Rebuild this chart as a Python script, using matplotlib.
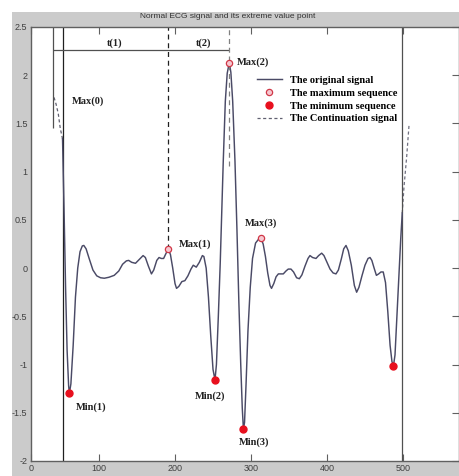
import matplotlib
matplotlib.use("Agg")
import matplotlib.pyplot as plt
from matplotlib.patches import Rectangle

# ECG signal (x in samples, y in mV)
sig_x = [52, 54, 56, 58, 60, 61, 63, 66, 69, 72, 75, 78, 80, 83, 87, 92, 97, 102, 107, 113,
         120, 126, 131, 136, 139, 143, 148, 153, 158, 161, 165, 169, 172, 176, 179, 182, 185,
         188, 191.2, 194, 197, 200, 202, 205, 209, 213, 217, 221, 224, 228, 232, 236, 238, 241,
         244, 247, 250, 252.6, 254.5, 257, 259.5, 261.5, 263.5, 266.2, 268.7, 271.4, 273.5,
         275.9, 278.9, 281.5, 284, 286.5, 288.5, 290, 291.5, 293.5, 296, 299, 302, 306, 310,
         313, 316, 319, 322, 325, 327, 330, 333, 336, 339, 342.5, 346, 349, 352.6, 356, 360,
         363.6, 367, 371, 375, 377.6, 381, 385.5, 389, 393, 396, 400, 404, 408, 411.8, 415,
         419, 422, 425, 428, 432, 436, 439, 442, 446, 450, 454, 456.6, 459, 462, 465, 468,
         471, 474, 477, 480, 483, 485.5, 487.5, 489.5, 492, 495, 497, 499]
sig_y = [1.34, 0.6, -0.2, -0.85, -1.22, -1.30, -1.2, -0.8, -0.3, 0.0, 0.17, 0.23, 0.235, 0.20,
         0.10, -0.02, -0.08, -0.10, -0.105, -0.095, -0.075, -0.03, 0.04, 0.075, 0.08, 0.06,
         0.05, 0.09, 0.13, 0.11, 0.02, -0.06, -0.02, 0.08, 0.11, 0.10, 0.10, 0.15, 0.20, 0.14,
         0.0, -0.16, -0.21, -0.19, -0.14, -0.13, -0.08, -0.01, 0.03, 0.01, 0.06, 0.13, 0.12,
         0.0, -0.3, -0.7, -1.05, -1.16, -1.0, -0.5, 0.05, 0.6, 1.11, 1.73, 2.02, 2.13, 2.03,
         1.73, 1.11, 0.4, -0.35, -1.0, -1.45, -1.67, -1.6, -1.2, -0.65, -0.2, 0.1, 0.26, 0.3,
         0.31, 0.25, 0.12, -0.05, -0.18, -0.21, -0.16, -0.09, -0.06, -0.06, -0.06, -0.03,
         -0.01, -0.01, -0.04, -0.1, -0.11, -0.07, 0.02, 0.1, 0.13, 0.11, 0.10, 0.13, 0.155,
         0.13, 0.06, -0.01, -0.05, -0.06, -0.02, 0.1, 0.2, 0.235, 0.18, 0.03, -0.18, -0.25,
         -0.2, -0.08, 0.03, 0.1, 0.11, 0.08, 0.0, -0.075, -0.06, -0.04, -0.04, -0.15, -0.45,
         -0.8, -0.97, -1.01, -0.9, -0.5, 0.0, 0.3, 0.57]

# continuation at both ends
cont_left_x = [40.8, 43.5, 46.4, 49, 52]
cont_left_y = [1.77, 1.70, 1.60, 1.45, 1.34]
cont_right_x = [499, 501.3, 504.8, 508]
cont_right_y = [0.57, 0.84, 1.15, 1.49]

# extreme points
max_x = [191.2, 271.4, 313]
max_y = [0.20, 2.13, 0.31]
min_x = [61, 252.6, 290, 487.5]
min_y = [-1.30, -1.16, -1.67, -1.01]

max0_x = 40
sig_start, sig_end = 52, 499
t_level = 2.26

xticks = [10.5, 100, 200, 300, 400, 500]
xtick_labels = ["0", "100", "200", "300", "400", "500"]
yticks = [-2, -1.5, -1, -0.5, 0, 0.5, 1, 1.5, 2, 2.5]

W, H = 460, 476
fig = plt.figure(figsize=(W / 100, H / 100), dpi=100)
fig.patch.set_facecolor("white")
fig.patches.append(Rectangle((12 / W, 0), 1, 1 - 12 / H, transform=fig.transFigure,
                             facecolor="#cbcbcb", edgecolor="none", zorder=-10))
ax = fig.add_axes([31 / W, 1 - 461 / H, (459 - 31) / W, (461 - 27) / H])
ax.set_facecolor("white")

sig_col = "#4a4a66"
serif = dict(family="Liberation Serif", weight="bold", size=7.5, color="#202020")

ax.plot(sig_x, sig_y, color=sig_col, lw=1.05, label="The original signal", zorder=3)
ax.plot(max_x, max_y, "o", ms=4.5, mfc="#f6c8d0", mec="#d03848", mew=0.9,
        label="The maximum sequence", zorder=5)
ax.plot(min_x, min_y, "o", ms=5, color="#e8101e", label="The minimum sequence", zorder=5)
ax.plot(cont_left_x, cont_left_y, "--", color="#606070", lw=0.9, dashes=(2.5, 2),
        label="The Continuation signal", zorder=2)
ax.plot(cont_right_x, cont_right_y, "--", color="#707080", lw=0.9, dashes=(2.5, 2), zorder=2)

# boundary and interval lines
ax.axvline(sig_start, color="#202020", lw=0.9, zorder=2)
ax.axvline(sig_end, color="#505050", lw=0.9, zorder=2)
ax.vlines(max0_x, 1.45, 2.5, color="#505050", lw=0.9)
ax.hlines(t_level, max0_x, max_x[1], color="#505050", lw=0.9)
ax.vlines(max_x[0], max_y[0], 2.5, color="#202020", lw=0.9, linestyles=(0, (4, 3)))
ax.vlines(max_x[1], 1.06, 2.5, color="#808080", lw=0.9, linestyles=(0, (4, 3)), zorder=4)

# labels
ax.text(64, 1.73, "Max(0)", va="center", **serif)
ax.text(121, 2.33, "t(1)", va="center", ha="center", **serif)
ax.text(237, 2.33, "t(2)", va="center", ha="center", **serif)
ax.text(max_x[0] + 14.5, max_y[0] + 0.05, "Max(1)", va="center", **serif)
ax.text(max_x[1] + 9.5, max_y[1], "Max(2)", va="center", **serif)
ax.text(max_x[2] - 21, max_y[2] + 0.16, "Max(3)", va="center", **serif)
ax.text(min_x[0] + 8.7, min_y[0] - 0.14, "Min(1)", va="center", **serif)
ax.text(min_x[1] - 26.5, min_y[1] - 0.17, "Min(2)", va="center", **serif)
ax.text(min_x[2] - 5.5, min_y[2] - 0.14, "Min(3)", va="center", **serif)

ax.legend(loc="upper left", bbox_to_anchor=(0.528, 0.888), frameon=False,
          prop=dict(family="Liberation Serif", weight="bold", size=7.5),
          handlelength=2.4, handletextpad=0.8, labelspacing=0.34, borderpad=0,
          borderaxespad=0)

ax.set_xlim(10.5, 573.7)
ax.set_ylim(-2, 2.5)
ax.set_xticks(xticks, xtick_labels)
ax.set_yticks(yticks, [f"{v:g}" for v in yticks])
ax.tick_params(axis="x", direction="in", length=5, width=0.8, color="#606060",
               top=True, labelsize=6.5, labelcolor="#404040", pad=2.5)
ax.tick_params(axis="y", direction="in", length=5, width=0.8, color="#606060",
               left=False, right=True, labelsize=6.5, labelcolor="#404040", pad=2.5)
for t in ax.get_xticklabels() + ax.get_yticklabels():
    t.set_family("Liberation Sans")
for s in ax.spines.values():
    s.set_color("#606060")
    s.set_linewidth(1.0)

fig.text(228 / W, 1 - 17 / H, "Normal ECG signal and its extreme value point",
         ha="center", va="center", fontsize=6, family="Liberation Sans", color="#303030")

fig.savefig("out.png", dpi=100, facecolor=fig.get_facecolor())
